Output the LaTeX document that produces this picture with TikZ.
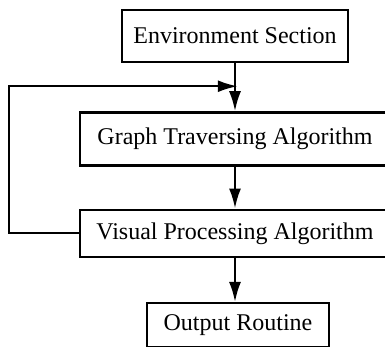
\documentclass[tikz,border=0pt]{standalone}
\usepackage{fontspec}
\setmainfont{Liberation Serif}
\usetikzlibrary{arrows.meta, calc, positioning}

\begin{document}
\begin{tikzpicture}[x=0.5pt, y=-0.5pt, >={Latex[length=10pt,width=6pt]}, line width=1.2pt,
		block/.style={draw, inner sep=0pt, font=\fontsize{12}{14}\selectfont}]
		\useasboundingbox (0,0) rectangle (387,347);
		\clip (0,0) rectangle (385,347);

		\node[block, minimum width=113pt, minimum height=26pt] at (235,36) (env) {Environment Section};
		\node[block, minimum width=165pt, minimum height=26.5pt] [below=24pt of env, xshift=5pt] (graph) {\hspace*{-10pt}Graph Traversing Algorithm};
		\node[block, minimum width=165pt, minimum height=23.5pt] [below=21pt of graph] (visual) {\hspace*{-10pt}Visual Processing Algorithm};
		\node[block, minimum width=91pt, minimum height=22pt] [below=22pt of env|-visual.south, anchor=north, xshift=1.5pt] (output) {Output Routine};

		\coordinate (merge) at ($(env.south)!0.48!(graph.north)$);

		\draw[->] (env.south)    -- (env.south|-graph.north);
		\draw[->] (env.south|-graph.south)  -- (env.south|-visual.north);
		\draw[->] (env.south|-visual.south) -- (env.south|-output.north);
		\draw[->] (visual.west)  -- ++(-70,0) |- ($(merge)+(-2,0)$);
	\end{tikzpicture}
\end{document}
